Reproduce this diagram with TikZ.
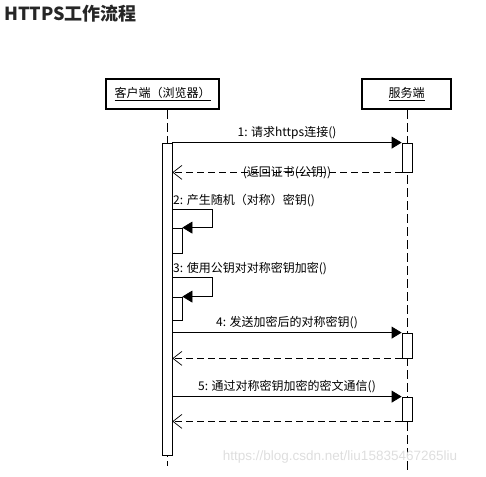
\documentclass[tikz,border=0pt]{standalone}
\usepackage{fontspec}
\setmainfont{Noto Sans CJK SC}
\newfontfamily\wmfont{Liberation Sans}
\usetikzlibrary{arrows.meta}
\begin{document}
\begin{tikzpicture}[x=1pt,y=-1pt,
  obj/.style={draw,line width=2pt,fill=white,minimum height=30pt,inner sep=0pt,font=\fontsize{12}{12}\selectfont},
  bar/.style={draw,line width=0.8pt,fill=white,inner sep=0pt,minimum width=10pt},
  life/.style={line width=0.8pt,dash pattern=on 9pt off 4pt},
  msg/.style={line width=0.8pt,-{Triangle[length=10pt,width=12pt]}},
  ret/.style={line width=0.8pt,dash pattern=on 7pt off 4pt,-{Straight Barb[length=9pt,width=14pt,line width=0.7pt]}},
  lbl/.style={font=\fontsize{12}{12}\selectfont,inner sep=0pt}]
\useasboundingbox (0,0) rectangle (486,476);
% title
\node[anchor=west,inner sep=0pt,font=\fontsize{18}{18}\selectfont\bfseries,text=black!85] (title) at (4,14) {HTTPS工作流程};
% lifelines
\coordinate (cend) at (167,466);
\coordinate (send) at (407,470);
\node[obj,minimum width=113pt] (client) at (162.5,94) {\underline{客户端（浏览器）}};
\node[obj,minimum width=89pt] (server) at (406.5,94) {\underline{服务端}};
\draw[life] (client.south -| cend) -- (cend);
\draw[life] (server.south -| send) -- (send);
% activation bars
\node[bar,minimum height=312pt] (cbar) at (167,299) {};
\node[bar,minimum height=29pt] (sb1) at (407,157.5) {};
\node[bar,minimum height=25pt] (sb2) at (407,345.5) {};
\node[bar,minimum height=24pt] (sb3) at (407,409) {};
\node[bar,minimum height=25pt] (nb1) at (177,240.5) {};
\node[bar,minimum height=23pt] (nb2) at (177,308.5) {};
% message 1
\draw[msg] (sb1.north west -| cbar.east) -- node[lbl,above=3pt] (l1) {1: 请求https连接()} (sb1.north west);
\draw[ret] (sb1.south west) -- node[lbl] (l1r) {(返回证书(公钥))} (sb1.south west -| cbar.east);
% self message 2
\coordinate (s2a) at (172,209);
\coordinate (s2b) at (212,209);
\node[lbl,anchor=south west] (l2) at (173,207) {2: 产生随机（对称）密钥()};
\draw[line width=0.8pt,-{Triangle[length=10pt,width=12pt]}] (s2a) -- (s2b) |- (nb1.north east);
% self message 3
\coordinate (s3a) at (172,277);
\coordinate (s3b) at (212,277);
\node[lbl,anchor=south west] (l3) at (173,275) {3: 使用公钥对对称密钥加密()};
\draw[line width=0.8pt,-{Triangle[length=10pt,width=12pt]}] (s3a) -- (s3b) |- (nb2.north east);
% message 4
\draw[msg] (sb2.north west -| cbar.east) -- node[lbl,above=3pt] (l4) {4: 发送加密后的对称密钥()} (sb2.north west);
\draw[ret] (sb2.south west) -- (sb2.south west -| cbar.east);
% message 5
\draw[msg] (sb3.north west -| cbar.east) -- node[lbl,above=3pt] (l5) {5: 通过对称密钥加密的密文通信()} (sb3.north west);
\draw[ret] (sb3.south west) -- (sb3.south west -| cbar.east);
% watermark
\node[inner sep=0pt,font=\wmfont\fontsize{13.5}{14}\selectfont,text=black!13] (wm) at (340,457) {https://blog.csdn.net/liu15835467265liu};
\end{tikzpicture}
\end{document}
